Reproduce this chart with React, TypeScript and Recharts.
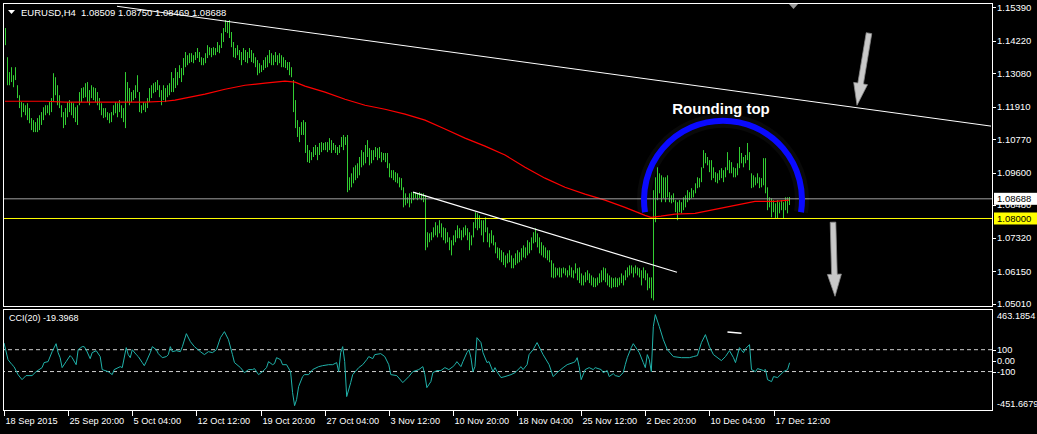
import React from 'react';
import { ComposedChart, Bar, Line, XAxis, YAxis, ReferenceLine } from 'recharts';

// EURUSD H4, bar highs and lows in 1/10000 above 1.0000 (1466 = 1.1466)
const barHigh = [
  1466, 1364, 1312, 1329, 1301, 1329, 1266, 1231, 1207, 1203,
  1196, 1203, 1186, 1151, 1144, 1137, 1151, 1161, 1172, 1189,
  1196, 1196, 1207, 1221, 1308, 1294, 1266, 1231, 1196, 1172,
  1186, 1207, 1214, 1207, 1203, 1189, 1196, 1242, 1256, 1259,
  1273, 1277, 1249, 1266, 1259, 1256, 1242, 1221, 1203, 1186,
  1186, 1172, 1168, 1172, 1196, 1207, 1203, 1214, 1196, 1186,
  1312, 1277, 1256, 1242, 1249, 1266, 1301, 1242, 1196, 1207,
  1203, 1221, 1256, 1266, 1273, 1277, 1284, 1266, 1249, 1266,
  1256, 1266, 1273, 1312, 1291, 1326, 1312, 1336, 1326, 1361,
  1382, 1371, 1378, 1378, 1371, 1382, 1396, 1382, 1364, 1361,
  1378, 1406, 1399, 1396, 1399, 1396, 1417, 1406, 1448, 1466,
  1494, 1487, 1494, 1452, 1417, 1396, 1406, 1389, 1382, 1396,
  1389, 1382, 1396, 1389, 1378, 1364, 1354, 1343, 1336, 1354,
  1364, 1371, 1389, 1378, 1371, 1382, 1371, 1378, 1371, 1364,
  1354, 1347, 1347, 1329, 1284, 1214, 1144, 1120, 1137, 1144,
  1137, 1057, 1039, 1032, 1050, 1057, 1050, 1064, 1067, 1064,
  1067, 1067, 1081, 1074, 1064, 1057, 1050, 1057, 1085, 1092,
  1085, 1092, 944, 958, 979, 986, 993, 1015, 1039, 1032,
  1057, 1074, 1046, 1039, 1039, 1050, 1046, 1050, 1032, 1029,
  1029, 1029, 993, 969, 969, 962, 958, 944, 941, 909,
  888, 874, 888, 892, 892, 892, 888, 892, 888, 888,
  881, 752, 748, 752, 769, 787, 776, 794, 783, 769,
  766, 752, 734, 724, 741, 759, 776, 766, 759, 769,
  776, 766, 752, 741, 787, 822, 818, 811, 794, 794,
  804, 769, 748, 759, 741, 717, 699, 696, 689, 682,
  671, 678, 689, 671, 661, 678, 689, 682, 696, 706,
  699, 724, 717, 734, 752, 766, 748, 734, 717, 706,
  699, 689, 689, 654, 643, 629, 626, 629, 626, 629,
  626, 619, 636, 629, 619, 643, 626, 629, 608, 601,
  612, 619, 608, 601, 594, 591, 594, 608, 619, 629,
  626, 608, 601, 594, 591, 594, 591, 594, 608, 601,
  619, 629, 636, 636, 629, 636, 629, 626, 619, 629,
  619, 608, 594, 594, 899, 944, 979, 958, 951, 944,
  944, 951, 892, 881, 888, 864, 857, 864, 857, 874,
  881, 899, 892, 906, 899, 923, 944, 941, 979, 1039,
  1029, 1015, 1004, 1004, 979, 962, 958, 969, 976, 969,
  979, 1032, 1004, 997, 979, 976, 993, 1050, 1029, 1015,
  1022, 1064, 1032, 958, 951, 944, 958, 944, 941, 1011,
  1011, 909, 874, 871, 864, 853, 864, 857, 864, 857,
  874, 874, 875,
];
const barLow = [
  1406, 1266, 1266, 1277, 1259, 1284, 1221, 1186, 1154, 1172,
  1161, 1144, 1133, 1109, 1102, 1102, 1102, 1109, 1127, 1144,
  1161, 1168, 1161, 1172, 1207, 1231, 1196, 1186, 1154, 1116,
  1127, 1154, 1172, 1161, 1151, 1137, 1127, 1196, 1207, 1221,
  1224, 1207, 1196, 1221, 1214, 1207, 1196, 1179, 1161, 1151,
  1154, 1144, 1133, 1137, 1161, 1168, 1154, 1172, 1151, 1137,
  1116, 1207, 1196, 1207, 1214, 1221, 1242, 1172, 1168, 1179,
  1172, 1186, 1207, 1221, 1238, 1242, 1249, 1224, 1196, 1214,
  1207, 1224, 1231, 1242, 1242, 1256, 1266, 1291, 1277, 1301,
  1329, 1336, 1343, 1347, 1343, 1354, 1361, 1347, 1336, 1336,
  1343, 1361, 1371, 1364, 1371, 1371, 1382, 1378, 1396, 1417,
  1452, 1448, 1431, 1399, 1364, 1361, 1371, 1354, 1336, 1354,
  1347, 1343, 1361, 1347, 1343, 1329, 1301, 1308, 1312, 1319,
  1326, 1329, 1343, 1336, 1336, 1347, 1336, 1343, 1329, 1329,
  1326, 1319, 1301, 1294, 1172, 1116, 1085, 1067, 1092, 1092,
  1029, 997, 994, 1004, 1015, 1022, 1004, 1022, 1032, 1039,
  1039, 1032, 1039, 1029, 1039, 1029, 1022, 1029, 1050, 1039,
  1057, 892, 899, 909, 923, 934, 941, 951, 979, 986,
  993, 1015, 986, 993, 1004, 1015, 1004, 1011, 997, 1004,
  997, 976, 944, 941, 934, 927, 923, 909, 899, 839,
  846, 853, 839, 853, 864, 871, 864, 871, 864, 857,
  689, 699, 717, 724, 734, 741, 734, 748, 734, 724,
  713, 717, 689, 671, 706, 717, 731, 731, 724, 734,
  741, 724, 689, 706, 734, 766, 759, 766, 741, 717,
  752, 717, 699, 713, 706, 678, 661, 654, 647, 637,
  629, 643, 647, 626, 626, 637, 643, 647, 654, 664,
  661, 671, 678, 689, 713, 717, 699, 678, 671, 664,
  661, 654, 647, 594, 591, 594, 601, 594, 594, 608,
  601, 594, 601, 594, 591, 608, 584, 574, 566, 566,
  577, 584, 574, 566, 560, 560, 566, 574, 577, 584,
  577, 566, 560, 556, 560, 560, 560, 566, 574, 566,
  584, 594, 601, 608, 594, 608, 601, 594, 566, 591,
  584, 549, 556, 521, 514, 787, 864, 888, 857, 871,
  857, 874, 857, 853, 857, 822, 794, 822, 818, 829,
  839, 857, 864, 871, 874, 888, 906, 909, 927, 976,
  993, 986, 962, 934, 941, 927, 923, 934, 941, 927,
  944, 969, 958, 958, 944, 944, 951, 976, 993, 979,
  993, 1004, 969, 906, 909, 916, 923, 906, 909, 916,
  888, 829, 839, 804, 822, 801, 801, 818, 829, 801,
  829, 818, 847,
];

// red moving average, read at these bars (same units)
const maBar = [0, 10, 20, 30, 40, 50, 60, 70, 80, 85, 90, 100, 110, 120, 130, 140, 145, 150, 160, 170, 180, 190, 200, 210, 220, 230, 240, 250, 260, 270, 280, 290, 300, 310, 320, 323, 328, 335, 345, 355, 365, 375, 385, 392];
const maValue = [1210, 1210, 1210, 1207, 1207, 1207, 1207, 1207, 1210, 1214, 1221, 1235, 1252, 1266, 1273, 1280, 1277, 1263, 1242, 1217, 1196, 1182, 1165, 1144, 1113, 1081, 1053, 1022, 979, 941, 909, 885, 864, 839, 811, 804, 808, 815, 818, 832, 846, 860, 860, 864];

// CCI(20), read at these bars
const cciBar = [
  0, 2, 4, 5, 7, 9, 11, 14, 16, 19, 20, 22, 24, 26, 27, 28, 29, 31, 33, 34, 36, 37, 39, 40, 41, 43, 44, 46, 48, 49,
  52, 54, 55, 58, 59, 61, 62, 63, 64, 66, 67, 69, 70, 71, 73, 74, 76, 77, 79, 81, 82, 83, 84, 86, 88, 89, 91, 93, 95, 98,
  100, 102, 104, 106, 108, 110, 112, 114, 115, 118, 120, 122, 124, 125, 127, 129, 131, 132, 134, 135, 136, 138, 139, 141, 143, 144, 145, 146, 147, 149,
  150, 152, 154, 157, 159, 162, 164, 166, 167, 168, 169, 170, 171, 173, 174, 177, 179, 181, 182, 184, 185, 188, 190, 192, 193, 196, 199, 202, 204, 207,
  209, 210, 211, 213, 214, 216, 218, 220, 222, 224, 225, 226, 228, 229, 231, 232, 233, 234, 235, 236, 238, 239, 241, 242, 244, 245, 246, 248, 250, 253,
  255, 258, 259, 261, 262, 264, 266, 267, 269, 272, 274, 276, 279, 281, 284, 285, 286, 287, 288, 290, 292, 294, 295, 298, 299, 301, 302, 304, 305, 307,
  309, 310, 311, 313, 314, 316, 317, 319, 320, 321, 322, 323, 324, 325, 327, 329, 331, 334, 338, 342, 344, 346, 348, 350, 352, 354, 358, 360, 362, 364,
  365, 367, 369, 370, 372, 373, 375, 376, 379, 380, 381, 383, 384, 386, 389, 391, 392,
];
const cciValue = [
  162, 9, -37, -55, -128, -174, -137, -137, -101, -64, -18, -9, 82, 155, 73, 27, -64, -9, 46, 27, -37, 100, 128, 128, 100, 18, 73, 91, 37, -82,
  -101, -128, -82, -55, -64, 119, 55, 27, 100, 55, 37, -18, -46, -9, 73, 128, 100, 64, 27, 37, 55, 128, 82, 91, 82, 128, 247, 174, 128, 82,
  55, 82, 73, 100, 210, 265, 192, 55, -18, -64, -110, -82, -82, -73, -128, -101, -64, -9, -37, -27, 27, 9, -37, -37, -101, -293, -412, -357, -238, -146,
  -128, -128, -82, -55, -46, -37, -37, -18, -101, 73, 128, -9, -329, -201, -128, -64, -37, 9, 37, 18, 55, 64, 37, -37, -128, -137, -201, -146, -101, -82,
  -55, -128, -247, -192, -110, -91, -91, -64, -82, -55, -37, -9, -55, -9, 73, 100, 27, -101, -55, 210, 165, 73, -18, -9, -101, -64, -101, -155, -146, -128,
  -110, -55, -82, -37, 55, 100, 165, 128, 55, -37, -146, -110, -64, -37, -18, -9, 27, -55, -174, -82, -64, -82, -64, -82, -110, -91, -146, -119, -137, -146,
  -110, -37, 27, 119, 155, 100, 73, -18, -64, 55, 9, -101, 311, 421, 311, 192, 100, 37, 27, 27, 37, 46, 165, 238, 128, 55, 0, 37, 91, 27,
  -18, 119, 73, 110, 146, -82, -101, -73, -91, -82, -174, -192, -146, -155, -101, -82, -19.3968,
];

const priceTicks = [1.1539, 1.1422, 1.1308, 1.1191, 1.1077, 1.096, 1.0848, 1.0732, 1.0615, 1.0501];
const cciTicks = [463.1854, 100, 0, -100, -451.6679];
const timeLabels = ['18 Sep 2015', '25 Sep 20:00', '5 Oct 04:00', '12 Oct 12:00', '19 Oct 20:00', '27 Oct 04:00', '3 Nov 12:00', '10 Nov 20:00', '18 Nov 04:00', '25 Nov 12:00', '2 Dec 20:00', '10 Dec 04:00', '17 Dec 12:00'];
const timeLabelBar = [0, 32, 64, 96, 128, 160, 192, 224, 256, 288, 320, 352, 384];

const symbol = 'EURUSD,H4';
const lastOHLC = ['1.08509', '1.08750', '1.08469', '1.08688'];
const bidPrice = 1.08688;
const levelPrice = 1.08;
const cciNow = '-19.3968';

// drawing objects: [bar, price]
const trendTop = [{ x: 56, y: 1.1542 }, { x: 493, y: 1.1123 }];
const trendLow = [{ x: 204, y: 1.0892 }, { x: 336, y: 1.0612 }];
const roundingTop = [{ x: 320, y: 1.0822 }, { x: 398, y: 1.0822 }];
const arrowRight = [{ x: 432, y: 1.1448 }, { x: 426, y: 1.1196 }];
const arrowDown = [{ x: 414, y: 1.0787 }, { x: 415, y: 1.0528 }];
const cciMark = [{ x: 361, y: 262 }, { x: 368, y: 250 }];

const SLOTS = 494; // bars plus the empty shift area on the right

const pip = (v: number) => 1 + v / 10000;

const rows: any[] = Array.from({ length: SLOTS }, (_, i) => ({ i }));
barHigh.forEach((h, i) => {
  rows[i].range = [pip(barLow[i]), pip(h)];
});
maBar.forEach((b, k) => {
  rows[b].ma = pip(maValue[k]);
});

const cciRows: any[] = Array.from({ length: SLOTS }, (_, i) => ({ i }));
cciBar.forEach((b, k) => {
  cciRows[b].cci = cciValue[k];
});

const FONT = '"Liberation Sans", Arial, sans-serif';
const GREEN = '#32cd32';

const HLBar = (p: any) => {
  const { x, y, width, height, payload } = p;
  if (!payload || !payload.range || !isFinite(y)) return null;
  const cx = Math.floor(x + width / 2 + 0.01) + 0.5;
  const top = Math.min(y, y + height);
  const bot = Math.max(y, y + height);
  return <line x1={cx} x2={cx} y1={top} y2={Math.max(bot, top + 1)} stroke={GREEN} strokeWidth={1} />;
};

const PriceTick = (p: any) => {
  const { x, y, payload } = p;
  return (
    <g>
      <line x1={x + 1} x2={x + 4} y1={Math.round(y) + 0.5} y2={Math.round(y) + 0.5} stroke="#fff" />
      <text x={x + 5} y={y} dy="0.36em" fill="#fff" fontSize={9.5} fontFamily={FONT}>
        {payload.value.toFixed(5)}
      </text>
    </g>
  );
};

const CciTick = (p: any) => {
  const { x, y, payload } = p;
  const v = payload.value;
  const edge = Math.abs(v) > 200;
  const label = v === 0 ? '0.00' : edge ? v.toFixed(4) : String(v);
  const ty = edge ? (v > 0 ? y + 6 : y - 6) : y;
  return (
    <g>
      {!edge && <line x1={x + 1} x2={x + 4} y1={Math.round(y) + 0.5} y2={Math.round(y) + 0.5} stroke="#fff" />}
      <text x={x + 5} y={ty} dy="0.36em" fill="#fff" fontSize={9.2} fontFamily={FONT}>
        {label}
      </text>
    </g>
  );
};

const TimeTick = (p: any) => {
  const { x, y, index } = p;
  const px = Math.round(x) + 0.5;
  return (
    <g>
      <line x1={px} x2={px} y1={y + 1} y2={y + 6} stroke="#fff" />
      <text x={px + 1} y={y + 14} fill="#fff" fontSize={9.2} fontFamily={FONT}>
        {timeLabels[index]}
      </text>
    </g>
  );
};

const PriceTag = (p: any) => {
  const vb = p.viewBox || {};
  const x = vb.x + vb.width + 2;
  const y = vb.y;
  return (
    <g>
      <rect x={x} y={y - 6} width={43} height={12} fill={p.bg} />
      <text x={x + 3} y={y} dy="0.36em" fill="#000" fontSize={9.5} fontFamily={FONT}>
        {p.text}
      </text>
    </g>
  );
};

const ArcShape = (p: any) => {
  const { x1, y1, x2, y2 } = p;
  const r = 79;
  const half = Math.abs(x2 - x1) / 2;
  const rise = Math.sqrt(Math.max(r * r - half * half, 0));
  const topY = y1 - rise - r;
  const d = `M ${x1} ${y1} A ${r} ${r} 0 1 1 ${x2} ${y2}`;
  return (
    <g>
      <path d={d} fill="none" stroke="rgba(255,255,255,0.035)" strokeWidth={14} />
      <path d={d} fill="none" stroke="#0a0aff" strokeWidth={6} />
      <text
        x={(x1 + x2) / 2 - 2}
        y={topY - 7}
        fill="#fff"
        fontSize={15}
        fontWeight="bold"
        textAnchor="middle"
        fontFamily={FONT}
      >
        Rounding top
      </text>
    </g>
  );
};

const ArrowShape = (p: any) => {
  const { x1, y1, x2, y2 } = p;
  const dx = x2 - x1;
  const dy = y2 - y1;
  const len = Math.hypot(dx, dy) || 1;
  const ux = dx / len;
  const uy = dy / len;
  const nx = -uy;
  const ny = ux;
  const head = 22;
  const hw = 7;
  const sw = 2.8;
  const bx = x2 - ux * head;
  const by = y2 - uy * head;
  const pts = [
    [x1 + nx * sw, y1 + ny * sw],
    [bx + nx * sw, by + ny * sw],
    [bx + nx * hw, by + ny * hw],
    [x2, y2],
    [bx - nx * hw, by - ny * hw],
    [bx - nx * sw, by - ny * sw],
    [x1 - nx * sw, y1 - ny * sw],
  ]
    .map((q) => q.join(','))
    .join(' ');
  return <polygon points={pts} fill="#c9c9c9" stroke="#8a8a8a" strokeWidth={0.8} />;
};

const App: React.FC = () => {
  return (
    <div
      style={{
        position: 'fixed',
        left: 0,
        top: 0,
        width: 1037,
        height: 434,
        background: '#000',
        overflow: 'hidden',
      }}
    >
      <div style={{ position: 'absolute', left: 0, top: 0 }}>
        <ComposedChart
          width={1037}
          height={310}
          data={rows}
          margin={{ top: 4, right: 0, bottom: 4, left: 4 }}
          barCategoryGap={0}
        >
          <XAxis dataKey="i" type="category" hide />
          <YAxis
            orientation="right"
            width={45}
            type="number"
            domain={[1.0494, 1.155]}
            ticks={priceTicks}
            interval={0}
            allowDataOverflow
            axisLine={false}
            tickLine={false}
            tickSize={0}
            tickMargin={0}
            tick={<PriceTick />}
          />
          <Bar dataKey="range" shape={HLBar} isAnimationActive={false} />
          <Line
            dataKey="ma"
            stroke="#ff0000"
            strokeWidth={1.2}
            dot={false}
            activeDot={false}
            connectNulls
            isAnimationActive={false}
          />
          <ReferenceLine y={bidPrice} stroke="#a0a0a0" label={<PriceTag bg="#ffffff" text={bidPrice.toFixed(5)} />} />
          <ReferenceLine y={levelPrice} stroke="#ffff00" label={<PriceTag bg="#ffff00" text={levelPrice.toFixed(5)} />} />
          <ReferenceLine segment={trendTop} stroke="#ffffff" strokeWidth={1} />
          <ReferenceLine segment={trendLow} stroke="#ffffff" strokeWidth={1.2} />
          <ReferenceLine segment={roundingTop} shape={ArcShape} />
          <ReferenceLine segment={arrowRight} shape={ArrowShape} />
          <ReferenceLine segment={arrowDown} shape={ArrowShape} />
        </ComposedChart>
      </div>

      <div style={{ position: 'absolute', left: 0, top: 306 }}>
        <ComposedChart
          width={1037}
          height={128}
          data={cciRows}
          margin={{ top: 4, right: 0, bottom: 0, left: 4 }}
        >
          <XAxis
            dataKey="i"
            type="category"
            height={24}
            ticks={timeLabelBar}
            interval={0}
            axisLine={false}
            tickLine={false}
            tickSize={0}
            tickMargin={0}
            tick={<TimeTick />}
          />
          <YAxis
            orientation="right"
            width={45}
            type="number"
            domain={[-451.6679, 463.1854]}
            ticks={cciTicks}
            interval={0}
            allowDataOverflow
            axisLine={false}
            tickLine={false}
            tickSize={0}
            tickMargin={0}
            tick={<CciTick />}
          />
          <ReferenceLine y={100} stroke="#cfcfcf" strokeDasharray="4 3" />
          <ReferenceLine y={-100} stroke="#cfcfcf" strokeDasharray="4 3" />
          <ReferenceLine segment={cciMark} stroke="#ffffff" strokeWidth={1.5} />
          <Line
            dataKey="cci"
            stroke="#20b2aa"
            strokeWidth={1}
            dot={false}
            activeDot={false}
            connectNulls
            isAnimationActive={false}
          />
        </ComposedChart>
      </div>

      <svg
        width={1037}
        height={434}
        style={{ position: 'absolute', left: 0, top: 0, pointerEvents: 'none' }}
      >
        <rect x={3.5} y={3.5} width={989} height={303} fill="none" stroke="#fff" />
        <rect x={3.5} y={309.5} width={989} height={101} fill="none" stroke="#fff" />
        <polygon points="8,10 15,10 11.5,14" fill="#fff" />
        <text x={21} y={16} fill="#fff" fontSize={9.5} fontFamily={FONT}>
          {symbol}
        </text>
        <text x={81} y={16} fill="#fff" fontSize={9.5} fontFamily={FONT} style={{ whiteSpace: 'pre' }}>
          {lastOHLC.join(' ')}
        </text>
        <polygon points="789,4 798,4 793.5,9" fill="#9a9a9a" />
        <text x={9} y={321} fill="#fff" fontSize={9} fontFamily={FONT}>
          {`CCI(20) ${cciNow}`}
        </text>
      </svg>
    </div>
  );
};

export default App;
